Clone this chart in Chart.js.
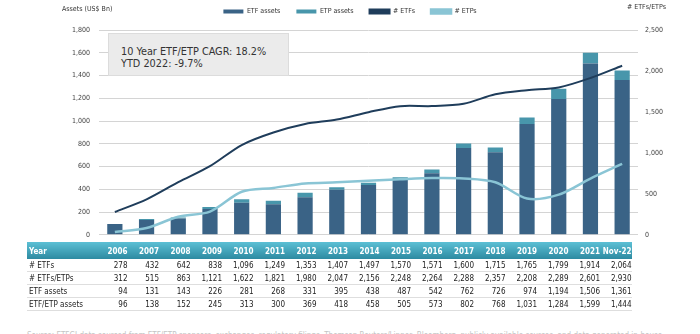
<!DOCTYPE html>
<html lang="en">
<head>
    <meta charset="utf-8" />
    <title>ETF/ETP assets and counts</title>
    <script src="https://cdn.jsdelivr.net/npm/chart.js@4.4.1/dist/chart.umd.min.js"></script>
    <style>
        html, body { margin: 0; padding: 0; background: #fff; overflow: hidden; }
        body { width: 700px; height: 334px; position: relative; font-family: "DejaVu Sans Condensed", "DejaVu Sans", sans-serif; }
        #chartBox { position: absolute; left: 0; top: 0; width: 700px; height: 248px; }
        .axisTitle { position: absolute; font-size: 7px; color: #333; white-space: nowrap; }
        #cagrBox { position: absolute; left: 108px; top: 33px; width: 181px; height: 43px; box-sizing: border-box;
                   background: #ebebeb; border: 1px solid #dcdcdc; padding: 12px 0 0 12px; font-size: 10.8px; line-height: 11.5px; color: #333; }
        #dataTable { position: absolute; left: 27px; top: 242px; display: grid; grid-template-columns: 69px repeat(17, 31.5px); font-size: 8px; color: #222; }
        #dataTable .hd { height: 17px; line-height: 19px; color: #fff; font-weight: bold; background: linear-gradient(#5cc0d5, #2d8aa1); text-align: right; }
        #dataTable .hd.lbl { text-align: left; padding-left: 2px; }
        #dataTable .cell { height: 12px; line-height: 13px; border-bottom: 1px solid #dedede; text-align: right; }
        #dataTable .cell.lbl { text-align: left; padding-left: 2px; }
        #footnote { position: absolute; left: 27px; top: 331px; font-size: 8px; color: #c4c4c4; white-space: nowrap; }
    </style>
</head>
<body>
    <div id="chartBox"><canvas id="etfChart"></canvas></div>
    <div class="axisTitle" style="left:62px; top:5px;">Assets (US$ Bn)</div>
    <div class="axisTitle" style="left:627px; top:3px;"># ETFs/ETPs</div>
    <div id="cagrBox">10 Year ETF/ETP CAGR: 18.2%<br />YTD 2022: -9.7%</div>
    <div id="dataTable"></div>
    <div id="footnote">Source: ETFGI data sourced from ETF/ETP sponsors, exchanges, regulatory filings, Thomson Reuters/Lipper, Bloomberg, publicly available sources, and data generated in-house.</div>

    <script type="text/javascript">
        const years = ['2006', '2007', '2008', '2009', '2010', '2011', '2012', '2013', '2014', '2015', '2016', '2017', '2018', '2019', '2020', '2021', 'Nov-22'];
        const numEtfs = [278, 432, 642, 838, 1096, 1249, 1353, 1407, 1497, 1570, 1571, 1600, 1715, 1765, 1799, 1914, 2064];
        const numEtfsEtps = [312, 515, 863, 1121, 1622, 1821, 1980, 2047, 2156, 2248, 2264, 2288, 2357, 2208, 2289, 2601, 2930];
        const numEtps = [34, 83, 221, 283, 526, 572, 627, 640, 659, 678, 693, 688, 642, 443, 490, 687, 866];
        const etfAssets = [94, 131, 143, 226, 281, 268, 331, 395, 438, 487, 542, 762, 726, 974, 1194, 1506, 1361];
        const etpAssets = [2, 7, 9, 19, 32, 32, 38, 23, 20, 18, 31, 40, 42, 57, 90, 93, 83];
        const etfEtpAssets = [96, 138, 152, 245, 313, 300, 369, 418, 458, 505, 573, 802, 768, 1031, 1284, 1599, 1444];

        const tableRows = [
            ['# ETFs', numEtfs],
            ['# ETFs/ETPs', numEtfsEtps],
            ['ETF assets', etfAssets],
            ['ETF/ETP assets', etfEtpAssets]
        ];

        const fontFamily = '"DejaVu Sans Condensed", "DejaVu Sans", sans-serif';
        const fmt = v => v.toLocaleString('en-US');

        // table under the chart
        function buildTable() {
            let html = '<div class="hd lbl">Year</div>';
            years.forEach(y => { html += `<div class="hd">${y}</div>`; });
            tableRows.forEach(([label, values]) => {
                html += `<div class="cell lbl">${label}</div>`;
                values.forEach(v => { html += `<div class="cell">${fmt(v)}</div>`; });
            });
            document.getElementById('dataTable').innerHTML = html;
        }
        buildTable();

        // a little extra room between the legend and the plot
        const legendGap = {
            id: 'legendGap',
            beforeInit(chart) {
                const fit = chart.legend.fit;
                chart.legend.fit = function () {
                    fit.call(this);
                    this.height += 5;
                };
            }
        };

        const ctx = document.getElementById('etfChart').getContext('2d');
        new Chart(ctx, {
            type: 'bar',
            data: {
                labels: years,
                datasets: [
                    {
                        label: 'ETF assets',
                        data: etfAssets,
                        backgroundColor: '#3a6386',
                        yAxisID: 'y',
                        stack: 'assets',
                        order: 2,
                        barPercentage: 0.48,
                        categoryPercentage: 1
                    },
                    {
                        label: 'ETP assets',
                        data: etpAssets,
                        backgroundColor: '#4896ab',
                        yAxisID: 'y',
                        stack: 'assets',
                        order: 2,
                        barPercentage: 0.48,
                        categoryPercentage: 1
                    },
                    {
                        type: 'line',
                        label: '# ETFs',
                        data: numEtfs,
                        borderColor: '#1f3d5b',
                        backgroundColor: '#1f3d5b',
                        borderWidth: 2,
                        pointRadius: 0,
                        tension: 0.3,
                        yAxisID: 'y1',
                        order: 1
                    },
                    {
                        type: 'line',
                        label: '# ETPs',
                        data: numEtps,
                        borderColor: '#8ac5d5',
                        backgroundColor: '#8ac5d5',
                        borderWidth: 2.5,
                        pointRadius: 0,
                        tension: 0.3,
                        yAxisID: 'y1',
                        order: 0
                    }
                ]
            },
            plugins: [legendGap],
            options: {
                responsive: true,
                maintainAspectRatio: false,
                animation: false,
                layout: { padding: { top: -8, bottom: 1, left: 0, right: 0 } },
                plugins: {
                    legend: {
                        position: 'top',
                        labels: {
                            boxWidth: 20,
                            boxHeight: 4,
                            padding: 16,
                            color: '#333',
                            font: { family: fontFamily, size: 7 },
                            sort: (a, b) => a.datasetIndex - b.datasetIndex
                        }
                    },
                    tooltip: { enabled: false }
                },
                scales: {
                    x: {
                        display: false,
                        stacked: true,
                        offset: true
                    },
                    y: {
                        position: 'left',
                        stacked: true,
                        min: 0,
                        max: 1800,
                        ticks: {
                            stepSize: 200,
                            padding: 9,
                            color: '#444',
                            font: { family: fontFamily, size: 7 },
                            callback: v => fmt(v)
                        },
                        grid: { color: '#d4d4d4', lineWidth: 1, drawTicks: false },
                        border: { display: false },
                        afterFit: axis => { axis.width = 99; }
                    },
                    y1: {
                        position: 'right',
                        min: 0,
                        max: 2500,
                        ticks: {
                            stepSize: 500,
                            padding: 7,
                            color: '#444',
                            font: { family: fontFamily, size: 7 },
                            callback: v => fmt(v)
                        },
                        grid: { display: false, drawTicks: false },
                        border: { display: false },
                        afterFit: axis => { axis.width = 62; }
                    }
                }
            }
        });
    </script>
</body>
</html>
